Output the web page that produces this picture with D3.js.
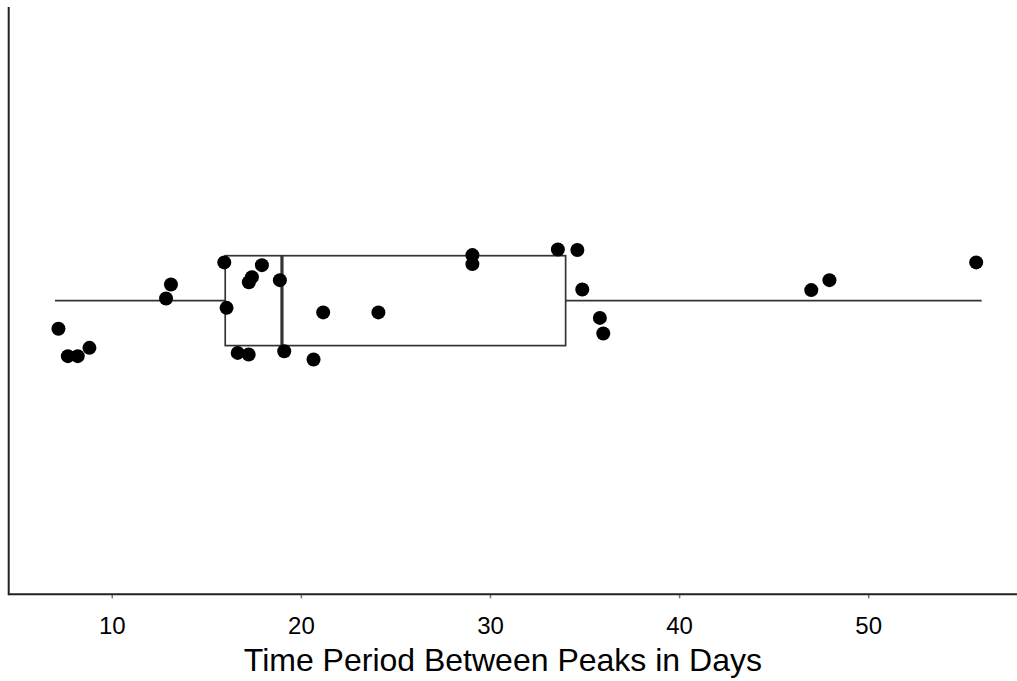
<!DOCTYPE html>
<html>
<head>
<meta charset="utf-8">
<script src="https://cdn.jsdelivr.net/npm/d3@7"></script>
<style>
  html, body { margin: 0; padding: 0; background: #fff; }
  svg { display: block; font-family: "Liberation Sans", Arial, sans-serif; }
</style>
</head>
<body>
<svg id="chart" width="1017" height="681"></svg>
<script>
// Days between successive peaks (horizontal position of each observation)
const periodDays = [
  7.18, 7.68, 8.20, 8.82, 12.87, 13.13, 15.95, 16.07, 16.66, 17.24,
  17.25, 17.41, 17.94, 18.89, 19.12, 20.67, 21.18, 24.10, 29.07, 29.07,
  33.59, 34.62, 34.88, 35.81, 35.99, 46.99, 47.95, 55.71
];
// Vertical jitter applied to each observation
const jitterOffset = [
  -0.235, -0.463, -0.463, -0.394, 0.018, 0.135, 0.319, -0.060, -0.436, -0.449,
  0.154, 0.196, 0.296, 0.171, -0.422, -0.491, -0.098, -0.098, 0.380, 0.305,
  0.427, 0.422, 0.093, -0.144, -0.274, 0.088, 0.171, 0.319
];
// Five-number summary: lower whisker, Q1, median, Q3, upper whisker
const boxStats = [7, 16, 19, 34, 56];
const xTicks = [10, 20, 30, 40, 50];
const xTitle = "Time Period Between Peaks in Days";

const svg = d3.select("#chart");
const W = 1017, H = 681;
const panel = { left: 8.7, right: 1028, top: 7, bottom: 594.3 };

const x = d3.scaleLinear()
  .domain([4.55, 58.45])
  .range([panel.left, panel.right]);
const y = d3.scaleLinear()
  .domain([-2.45, 2.45])
  .range([panel.bottom, panel.top]);

const boxHalf = 0.375;
const [lo, q1, med, q3, hi] = boxStats;
const ink = "#333333";

// whiskers
const g = svg.append("g");
g.append("line")
  .attr("x1", x(lo)).attr("x2", x(q1))
  .attr("y1", y(0)).attr("y2", y(0))
  .attr("stroke", ink).attr("stroke-width", 1.7);
g.append("line")
  .attr("x1", x(q3)).attr("x2", x(hi))
  .attr("y1", y(0)).attr("y2", y(0))
  .attr("stroke", ink).attr("stroke-width", 1.7);

// box
g.append("rect")
  .attr("x", x(q1)).attr("width", x(q3) - x(q1))
  .attr("y", y(boxHalf)).attr("height", y(-boxHalf) - y(boxHalf))
  .attr("fill", "#fff").attr("stroke", ink).attr("stroke-width", 1.7);

// median
g.append("line")
  .attr("x1", x(med)).attr("x2", x(med))
  .attr("y1", y(boxHalf)).attr("y2", y(-boxHalf))
  .attr("stroke", ink).attr("stroke-width", 3.2);

// observations
const pts = periodDays.map((d, i) => ({ v: d, j: jitterOffset[i] }));
svg.append("g").selectAll("circle")
  .data(pts)
  .join("circle")
  .attr("cx", d => x(d.v))
  .attr("cy", d => y(d.j))
  .attr("r", 7)
  .attr("fill", "#000");

// x axis
const xAxis = svg.append("g")
  .attr("transform", `translate(0,${panel.bottom})`)
  .call(d3.axisBottom(x).tickValues(xTicks).tickSize(4).tickPadding(19));
xAxis.select(".domain").remove();
xAxis.selectAll(".tick line").attr("stroke", "#777").attr("stroke-width", 1.5);
xAxis.selectAll(".tick text")
  .attr("fill", "#000")
  .style("font-size", "24px");

svg.append("line")
  .attr("x1", panel.left).attr("x2", W)
  .attr("y1", panel.bottom).attr("y2", panel.bottom)
  .attr("stroke", "#222").attr("stroke-width", 2);

// y axis line (no ticks or labels)
svg.append("line")
  .attr("x1", panel.left).attr("x2", panel.left)
  .attr("y1", panel.top).attr("y2", panel.bottom + 1)
  .attr("stroke", "#222").attr("stroke-width", 2);

// axis title
svg.append("text")
  .attr("x", (panel.left + W) / 2 - 10)
  .attr("y", 671)
  .attr("text-anchor", "middle")
  .attr("fill", "#000")
  .style("font-size", "32px")
  .text(xTitle);
</script>
</body>
</html>
